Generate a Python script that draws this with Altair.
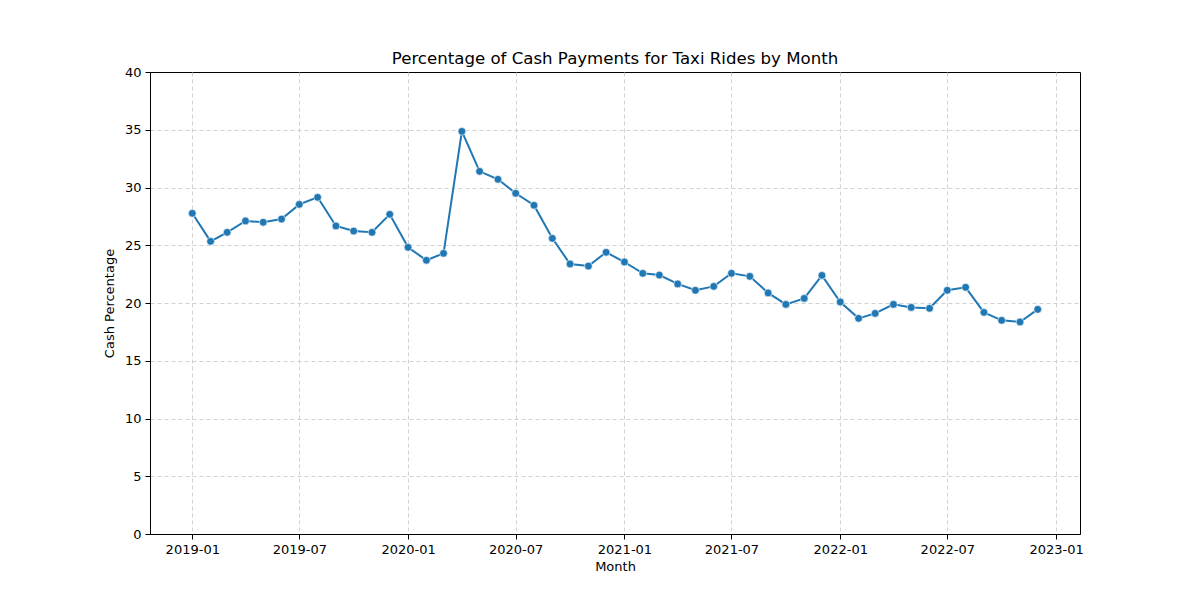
import pandas as pd
import altair as alt

# monthly cash share of taxi rides
months = pd.date_range("2019-01-01", "2022-12-01", freq="MS").strftime("%Y-%m-%dT00:00:00").tolist()
cash_pct = [
    27.77, 25.34, 26.12, 27.10, 26.99, 27.27, 28.54, 29.15, 26.67, 26.23, 26.12, 27.68,
    24.82, 23.70, 24.30, 34.86, 31.40, 30.71, 29.50, 28.46, 25.60, 23.38, 23.20, 24.39,
    23.55, 22.57, 22.42, 21.65, 21.10, 21.44, 22.57, 22.31, 20.87, 19.88, 20.40, 22.39,
    20.09, 18.67, 19.10, 19.88, 19.62, 19.54, 21.10, 21.36, 19.19, 18.50, 18.36, 19.45,
]
tick_dates = [(y, m) for y in range(2019, 2023) for m in (1, 7)] + [(2023, 1)]

df = pd.DataFrame({"month": months, "cash": cash_pct})

font = "DejaVu Sans"
blue = "#1f77b4"

x_enc = alt.X(
    "month:T",
    title="Month",
    scale=alt.Scale(
        domain=[
            alt.DateTime(year=2018, month=10, date=21, hours=12),
            alt.DateTime(year=2023, month=2, date=10, hours=12),
        ]
    ),
    axis=alt.Axis(
        values=[alt.DateTime(year=y, month=m, date=1) for y, m in tick_dates],
        format="%Y-%m",
        labelAngle=0,
        gridDash=[4, 3],
    ),
)
y_enc = alt.Y(
    "cash:Q",
    title="Cash Percentage",
    scale=alt.Scale(domain=[0, 40], nice=False),
    axis=alt.Axis(
        values=list(range(0, 41, 5)),
        gridDash=[4, 3],
        # keep the top frame solid: no dashed grid line on top of it
        gridOpacity={"condition": {"test": "datum.value == 40", "value": 0}, "value": 0.9},
    ),
)

base = alt.Chart(df).encode(x=x_enc, y=y_enc)
line = base.mark_line(color=blue, strokeWidth=2)
pts = base.mark_point(filled=True, fill=blue, stroke="white", strokeWidth=0.6, size=60, opacity=1)

chart = (
    (line + pts)
    .properties(
        width=930,
        height=462,
        title="Percentage of Cash Payments for Taxi Rides by Month",
        autosize=alt.AutoSizeParams(type="none"),
        padding={"left": 142, "top": 64, "right": 112, "bottom": 58},
    )
    .configure_view(stroke="black", strokeWidth=1)
    .configure_axis(
        labelFont=font,
        titleFont=font,
        labelFontSize=13,
        titleFontSize=13,
        labelColor="black",
        titleColor="black",
        titleFontWeight="normal",
        domainColor="black",
        tickColor="black",
        tickSize=5,
        labelPadding=4,
        gridColor="#cccccc",
    )
    .configure_axisX(titlePadding=4, gridOpacity=0.9)
    .configure_axisY(titlePadding=8)
    .configure_title(font=font, fontSize=16.6, fontWeight="normal", color="black", offset=-2)
)

chart.save("out.html", embed_options={"renderer": "svg", "actions": False})
